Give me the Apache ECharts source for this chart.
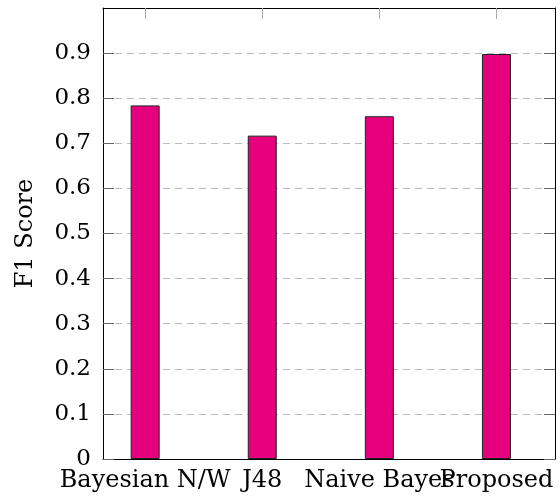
<!DOCTYPE html>
<html>
<head>
<meta charset="utf-8">
<script src="https://cdn.jsdelivr.net/npm/echarts@6/dist/echarts.min.js"></script>
<style>html,body{margin:0;padding:0;background:#fff}#c{width:560px;height:502px}</style>
</head>
<body>
<div id="c"></div>
<script>
var categories = ['Bayesian N/W', 'J48', 'Naive Bayes', 'Proposed'];
var f1Scores = [0.784, 0.717, 0.760, 0.898];
var yTicks = [0, 0.1, 0.2, 0.3, 0.4, 0.5, 0.6, 0.7, 0.8, 0.9];

var FONT = 'DejaVu Serif';
var chart = echarts.init(document.getElementById('c'));
var positions = categories.map(function (_, i) { return i; });
var evenPos = positions.filter(function (i) { return i % 2 === 0; });
var oddPos = positions.filter(function (i) { return i % 2 === 1; });
var barData = f1Scores.map(function (v, i) { return [i, v]; });

function labelAxis(vals, showLine) {
  return {
    type: 'value', min: -0.36, max: 3.5, position: 'bottom', offset: 0,
    axisLine: { show: showLine, onZero: false, lineStyle: { color: '#000', width: 1 } },
    axisTick: { show: false },
    splitLine: { show: false },
    axisLabel: {
      customValues: vals,
      hideOverlap: false,
      formatter: function (v) { return categories[Math.round(v)]; },
      color: '#000', fontFamily: FONT, fontSize: 24, margin: 10
    }
  };
}

chart.setOption({
  animation: false,
  grid: { left: 103, top: 8, right: 5, bottom: 43 },
  xAxis: [labelAxis(evenPos, true), labelAxis(oddPos, false), {
    type: 'value', min: -0.36, max: 3.5, position: 'top',
    axisLine: { show: true, onZero: false, lineStyle: { color: '#000', width: 1 } },
    axisTick: { show: true, inside: true, length: 11, customValues: positions, lineStyle: { color: '#aaa', width: 1 } },
    axisLabel: { show: false },
    splitLine: { show: false }
  }],
  yAxis: [{
    type: 'value', min: 0, max: 1, interval: 0.1, position: 'left',
    name: 'F1 Score', nameLocation: 'middle', nameGap: 65, nameRotate: 90,
    nameTextStyle: { color: '#000', fontFamily: FONT, fontSize: 24 },
    axisLine: { show: true, onZero: false, lineStyle: { color: '#000', width: 1 } },
    axisTick: { show: true, inside: true, length: 11, customValues: yTicks, lineStyle: { color: '#666', width: 1 } },
    axisLabel: {
      customValues: yTicks,
      formatter: function (v) { return v === 0 ? '0' : v.toFixed(1); },
      color: '#000', fontFamily: FONT, fontSize: 23, margin: 12
    },
    splitLine: { show: true, lineStyle: { color: '#bbb', type: [7, 5], width: 1 } }
  }, {
    type: 'value', min: 0, max: 1, interval: 0.1, position: 'right',
    axisLine: { show: true, onZero: false, lineStyle: { color: '#000', width: 1 } },
    axisTick: { show: true, inside: true, length: 11, customValues: yTicks, lineStyle: { color: '#666', width: 1 } },
    axisLabel: { show: false },
    splitLine: { show: false }
  }],
  series: [{
    type: 'bar', xAxisIndex: 0, yAxisIndex: 0,
    data: barData, barWidth: 29,
    itemStyle: { color: '#E6007E', borderColor: '#222', borderWidth: 1 }
  }]
});
</script>
</body>
</html>
